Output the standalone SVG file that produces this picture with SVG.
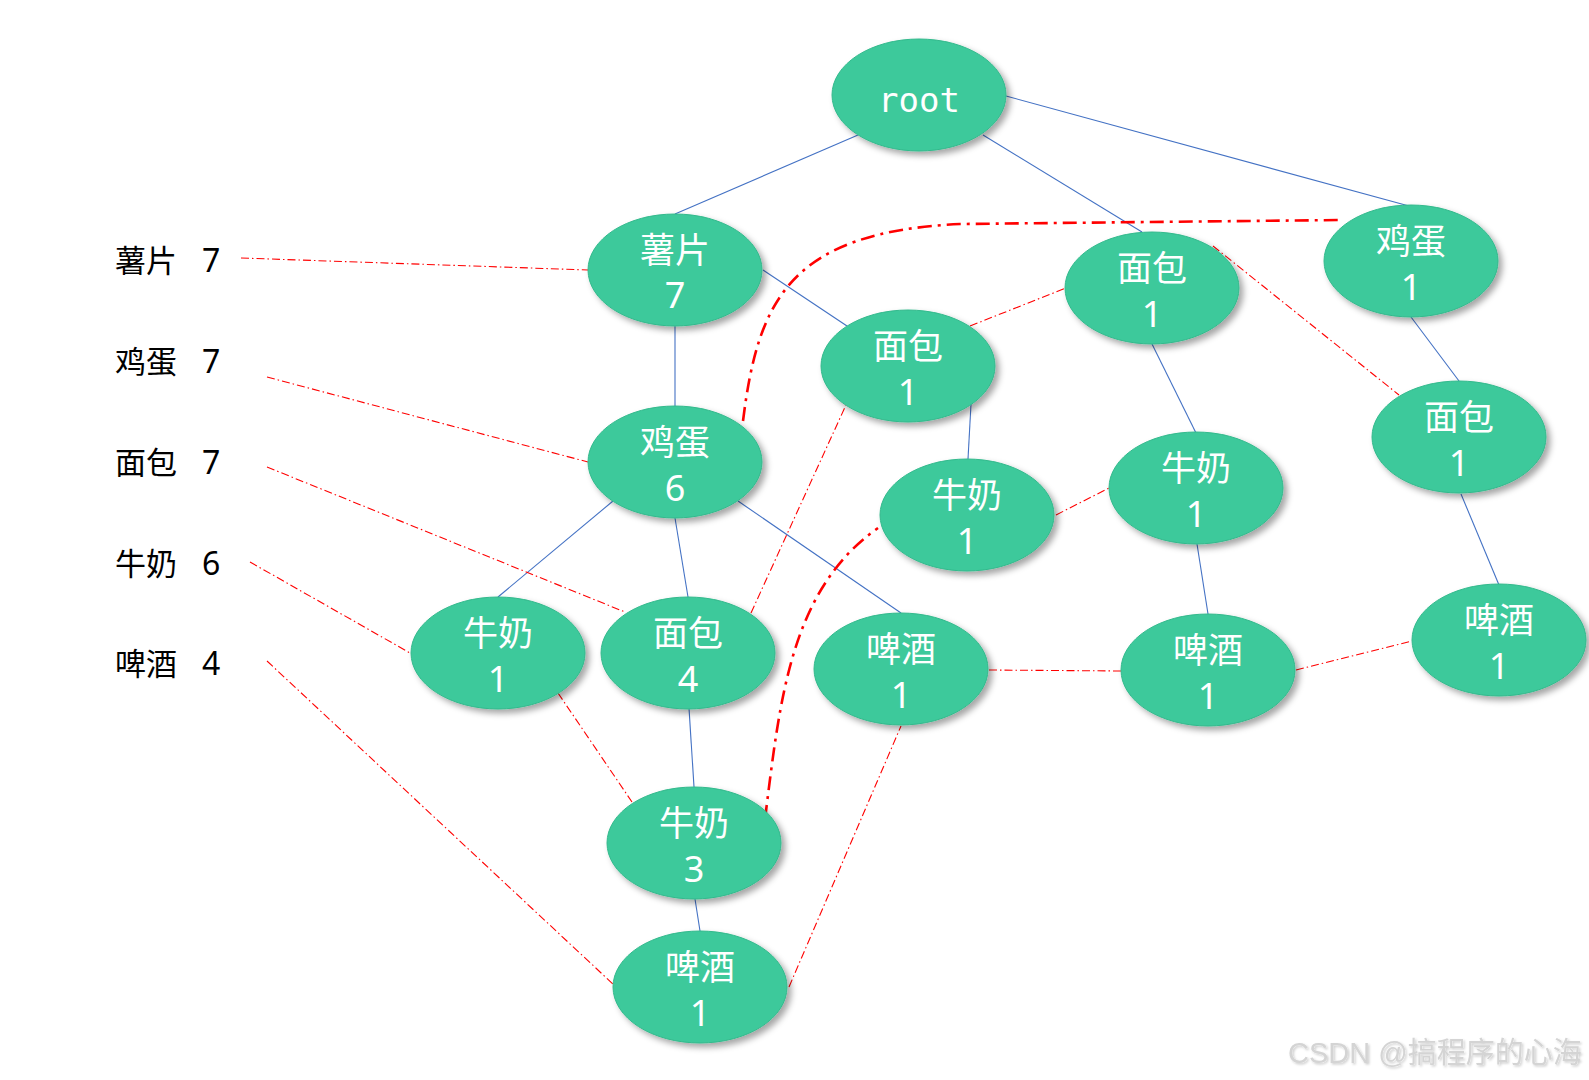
<svg xmlns="http://www.w3.org/2000/svg" width="1589" height="1080" viewBox="0 0 1589 1080">
<defs>
<filter id="sh" x="-20%" y="-20%" width="150%" height="160%">
<feDropShadow dx="4" dy="4" stdDeviation="3" flood-color="#000" flood-opacity="0.35"/>
</filter>
<filter id="wsh" x="-5%" y="-20%" width="110%" height="150%">
<feDropShadow dx="1.5" dy="1.5" stdDeviation="1" flood-color="#000" flood-opacity="0.2"/>
</filter>
</defs>
<style>
.bg{fill:#ffffff}
.node ellipse{fill:#3cc99b;stroke:#33b98c;stroke-width:1;filter:url(#sh)}
.cn{font-family:"Noto Sans CJK SC",sans-serif;font-size:35px;fill:#ffffff;text-anchor:middle}
.num{font-family:"Noto Sans","Liberation Sans",sans-serif;font-size:36px;fill:#ffffff;text-anchor:middle}
.rt{font-family:"DejaVu Sans Mono","Liberation Mono",monospace;font-size:34px;fill:#ffffff;text-anchor:middle}
.tree{stroke:#4472c4;stroke-width:1.1;fill:none}
.link{stroke:#ff0000;stroke-width:1.1;fill:none;stroke-dasharray:8 3 1.5 3}
.thick{stroke:#ff0000;stroke-width:2.6;fill:none;stroke-dasharray:14 6 3 6}
.lcn{font-family:"Noto Sans CJK SC",sans-serif;font-size:31px;fill:#000000}
.lnum{font-family:"Noto Sans","Liberation Sans",sans-serif;font-size:32px;fill:#000000}
.wm{font-family:"Liberation Sans","Noto Sans CJK SC",sans-serif;font-size:29px;fill:#d4d4d4;filter:url(#wsh)}
</style>
<rect class="bg" x="0" y="0" width="1589" height="1080"/>

<g id="connectors">
<g id="tree-edges">
<line class="tree" x1="858" y1="135" x2="675" y2="214"/>
<line class="tree" x1="983" y1="135" x2="1142" y2="232"/>
<line class="tree" x1="1006" y1="96" x2="1409" y2="206"/>
<line class="tree" x1="763" y1="270" x2="847" y2="326"/>
<line class="tree" x1="675" y1="325" x2="675" y2="406"/>
<line class="tree" x1="613" y1="501" x2="498" y2="597"/>
<line class="tree" x1="675" y1="518" x2="688" y2="597"/>
<line class="tree" x1="738" y1="501" x2="901" y2="613"/>
<line class="tree" x1="971" y1="404" x2="968" y2="459"/>
<line class="tree" x1="1152" y1="344" x2="1196" y2="433"/>
<line class="tree" x1="1411" y1="317" x2="1459" y2="381"/>
<line class="tree" x1="1461" y1="494" x2="1499" y2="585"/>
<line class="tree" x1="1197" y1="544" x2="1208" y2="614"/>
<line class="tree" x1="689" y1="708" x2="694" y2="787"/>
<line class="tree" x1="695" y1="899" x2="700" y2="931"/>
</g>
<g id="node-links">
<line class="link" x1="241" y1="258" x2="588" y2="270"/>
<line class="link" x1="267" y1="377" x2="588" y2="462"/>
<line class="link" x1="267" y1="467" x2="625" y2="612"/>
<line class="link" x1="751" y1="613" x2="846" y2="405"/>
<line class="link" x1="970" y1="326" x2="1066" y2="288"/>
<line class="link" x1="1213" y1="246" x2="1399" y2="395"/>
<line class="link" x1="250" y1="562" x2="410" y2="653"/>
<line class="link" x1="558" y1="693" x2="632" y2="802"/>
<line class="link" x1="1056" y1="515" x2="1109" y2="488"/>
<line class="link" x1="267" y1="661" x2="614" y2="985"/>
<line class="link" x1="789" y1="987" x2="901" y2="726"/>
<line class="link" x1="989" y1="670" x2="1121" y2="671"/>
<line class="link" x1="1296" y1="670" x2="1412" y2="641"/>
<path class="thick" d="M743,421 C758,300 790,232 960,224 L1341,220"/>
<path class="thick" d="M765,819 C780,700 790,590 878,528"/>
</g>
</g>

<g id="labels">
<text class="lcn" x="115" y="272">薯片</text><text class="lnum" x="202" y="272">7</text>
<text class="lcn" x="115" y="373">鸡蛋</text><text class="lnum" x="202" y="373">7</text>
<text class="lcn" x="115" y="474">面包</text><text class="lnum" x="202" y="474">7</text>
<text class="lcn" x="115" y="575">牛奶</text><text class="lnum" x="202" y="575">6</text>
<text class="lcn" x="115" y="675">啤酒</text><text class="lnum" x="202" y="675">4</text>
</g>

<g id="n-root" class="node" transform="translate(919,95)"><ellipse rx="87" ry="56"/><text class="rt" x="0" y="17">root</text></g>
<g id="n-shupian7" class="node" transform="translate(675,270)"><ellipse rx="87" ry="56"/><text class="cn" y="-7">薯片</text><text class="num" y="38">7</text></g>
<g id="n-jidan6" class="node" transform="translate(675,462)"><ellipse rx="87" ry="56"/><text class="cn" y="-7">鸡蛋</text><text class="num" y="39">6</text></g>
<g id="n-mianbao1a" class="node" transform="translate(908,366)"><ellipse rx="87" ry="56"/><text class="cn" y="-7">面包</text><text class="num" y="39">1</text></g>
<g id="n-mianbao1b" class="node" transform="translate(1152,288)"><ellipse rx="87" ry="56"/><text class="cn" y="-7">面包</text><text class="num" y="39">1</text></g>
<g id="n-jidan1" class="node" transform="translate(1411,261)"><ellipse rx="87" ry="56"/><text class="cn" y="-7">鸡蛋</text><text class="num" y="39">1</text></g>
<g id="n-mianbao1c" class="node" transform="translate(1459,437)"><ellipse rx="87" ry="56"/><text class="cn" y="-7">面包</text><text class="num" y="39">1</text></g>
<g id="n-niunai1a" class="node" transform="translate(967,515)"><ellipse rx="87" ry="56"/><text class="cn" y="-7">牛奶</text><text class="num" y="39">1</text></g>
<g id="n-niunai1b" class="node" transform="translate(1196,488)"><ellipse rx="87" ry="56"/><text class="cn" y="-7">牛奶</text><text class="num" y="39">1</text></g>
<g id="n-niunai1c" class="node" transform="translate(498,653)"><ellipse rx="87" ry="56"/><text class="cn" y="-7">牛奶</text><text class="num" y="39">1</text></g>
<g id="n-mianbao4" class="node" transform="translate(688,653)"><ellipse rx="87" ry="56"/><text class="cn" y="-7">面包</text><text class="num" y="39">4</text></g>
<g id="n-pijiu1a" class="node" transform="translate(901,669)"><ellipse rx="87" ry="56"/><text class="cn" y="-7">啤酒</text><text class="num" y="39">1</text></g>
<g id="n-pijiu1b" class="node" transform="translate(1208,670)"><ellipse rx="87" ry="56"/><text class="cn" y="-7">啤酒</text><text class="num" y="39">1</text></g>
<g id="n-pijiu1c" class="node" transform="translate(1499,640)"><ellipse rx="87" ry="56"/><text class="cn" y="-7">啤酒</text><text class="num" y="39">1</text></g>
<g id="n-niunai3" class="node" transform="translate(694,843)"><ellipse rx="87" ry="56"/><text class="cn" y="-7">牛奶</text><text class="num" y="39">3</text></g>
<g id="n-pijiu1d" class="node" transform="translate(700,987)"><ellipse rx="87" ry="56"/><text class="cn" y="-7">啤酒</text><text class="num" y="39">1</text></g>

<text class="wm" x="1288" y="1063">CSDN @搞程序的心海</text>
</svg>
